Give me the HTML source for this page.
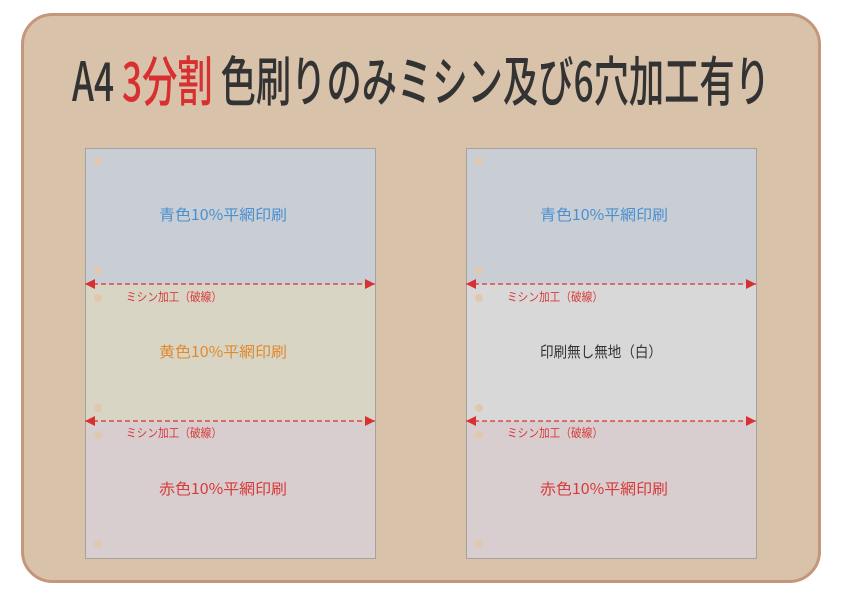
<!DOCTYPE html>
<html><head><meta charset="utf-8"><style>
html,body{margin:0;padding:0;background:#fff;}
svg{display:block;}
text{font-family:"Noto Sans CJK JP","Liberation Sans",sans-serif;}
</style></head><body>
<svg width="842" height="595" viewBox="0 0 842 595" xmlns="http://www.w3.org/2000/svg">
<defs>
<marker id="al" markerWidth="10" markerHeight="10" refX="0" refY="5" orient="auto" markerUnits="userSpaceOnUse"><path d="M0,5 L10,0 L10,10 Z" fill="#d93030"/></marker>
<marker id="ar" markerWidth="10" markerHeight="10" refX="10" refY="5" orient="auto" markerUnits="userSpaceOnUse"><path d="M10,5 L0,0 L0,10 Z" fill="#d93030"/></marker>
</defs>
<rect x="22.5" y="14.5" width="797" height="567" rx="30" fill="#d8c3aa" stroke="#c4967a" stroke-width="3"/>
<text x="72" y="101" font-size="54" font-weight="500" fill="#333" textLength="698" lengthAdjust="spacingAndGlyphs">A4 <tspan fill="#d83030">3分割</tspan> 色刷りのみミシン及び6穴加工有り</text>

<rect x="85" y="148" width="290" height="136" fill="#c9ced5"/>
<rect x="85" y="284" width="290" height="137" fill="#d8d5c5"/>
<rect x="85" y="421" width="290" height="137" fill="#d8cdcf"/>
<rect x="85.5" y="148.5" width="290" height="410" fill="none" stroke="#a8a09a" stroke-width="1"/>
<rect x="466" y="148" width="290" height="136" fill="#c9ced5"/>
<rect x="466" y="284" width="290" height="137" fill="#d8d8d8"/>
<rect x="466" y="421" width="290" height="137" fill="#d8cdcf"/>
<rect x="466.5" y="148.5" width="290" height="410" fill="none" stroke="#a8a09a" stroke-width="1"/>

<g fill="#e0c8ae">
<circle cx="98" cy="161" r="4"/><circle cx="98" cy="271" r="4"/><circle cx="98" cy="298" r="4"/>
<circle cx="98" cy="408" r="4"/><circle cx="98" cy="435" r="4"/><circle cx="98" cy="544" r="4"/>
<circle cx="479" cy="161" r="4"/><circle cx="479" cy="271" r="4"/><circle cx="479" cy="298" r="4"/>
<circle cx="479" cy="408" r="4"/><circle cx="479" cy="435" r="4"/><circle cx="479" cy="544" r="4"/>
</g>

<g stroke="#d93030" stroke-width="1.3" stroke-dasharray="5,3" marker-start="url(#al)" marker-end="url(#ar)">
<line x1="85" y1="284" x2="375" y2="284"/>
<line x1="85" y1="421" x2="375" y2="421"/>
<line x1="466" y1="284" x2="756" y2="284"/>
<line x1="466" y1="421" x2="756" y2="421"/>
</g>

<g font-size="12" fill="#d83a3a">
<text x="126" y="301" textLength="96" lengthAdjust="spacingAndGlyphs">ミシン加工（破線）</text>
<text x="126" y="437" textLength="96" lengthAdjust="spacingAndGlyphs">ミシン加工（破線）</text>
<text x="507" y="301" textLength="96" lengthAdjust="spacingAndGlyphs">ミシン加工（破線）</text>
<text x="507" y="437" textLength="96" lengthAdjust="spacingAndGlyphs">ミシン加工（破線）</text>
</g>

<g font-size="15">
<text x="159" y="220" fill="#4a90d0" textLength="128" lengthAdjust="spacingAndGlyphs">青色10%平網印刷</text>
<text x="159" y="357" fill="#e08a30" textLength="128" lengthAdjust="spacingAndGlyphs">黄色10%平網印刷</text>
<text x="159" y="494" fill="#d83a3a" textLength="128" lengthAdjust="spacingAndGlyphs">赤色10%平網印刷</text>
<text x="540" y="220" fill="#4a90d0" textLength="128" lengthAdjust="spacingAndGlyphs">青色10%平網印刷</text>
<text x="540" y="357" fill="#333" textLength="122" lengthAdjust="spacingAndGlyphs">印刷無し無地（白）</text>
<text x="540" y="494" fill="#d83a3a" textLength="128" lengthAdjust="spacingAndGlyphs">赤色10%平網印刷</text>
</g>
</svg>
</body></html>
